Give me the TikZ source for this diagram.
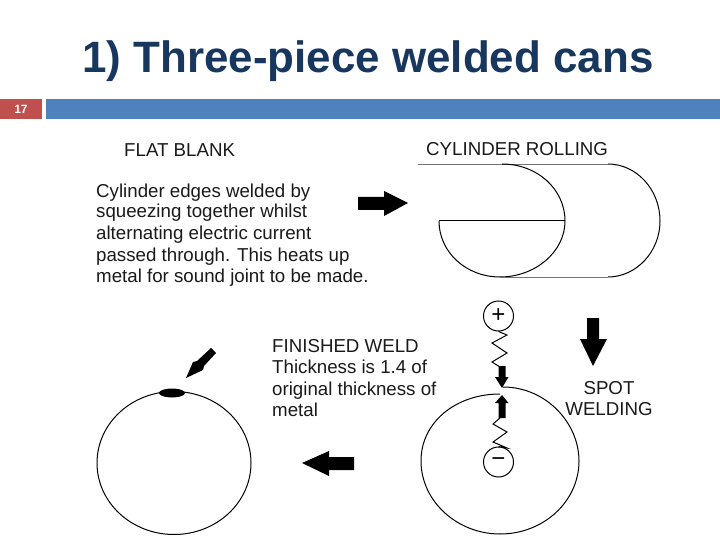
\documentclass[tikz,border=0pt]{standalone}
\usepackage{fontspec}
\setmainfont{Liberation Sans}
\definecolor{titleblue}{HTML}{17375E}
\definecolor{barblue}{HTML}{4F81BD}
\definecolor{barred}{HTML}{C0504D}
\definecolor{ink}{HTML}{1A1A1A}
\tikzset{
  lbl/.style={anchor=base west,inner sep=0pt,text=ink,font=\fontsize{18.7}{20}\selectfont},
  lblc/.style={anchor=base,inner sep=0pt,text=ink,font=\fontsize{18.7}{20}\selectfont},
  wire/.style={draw=black,line width=1pt},
  thin wire/.style={draw=black!55,line width=0.8pt},
  solid arrow/.style={fill=black,draw=none},
  term/.style={circle,draw=black,line width=1pt,minimum size=30pt,inner sep=0pt,font=\fontsize{24}{24}\selectfont}
}
\begin{document}
\begin{tikzpicture}[x=1pt,y=-1pt]
\useasboundingbox (0,0) rectangle (720,540);
\fill[white] (0,0) rectangle (720,540);
\node[anchor=base,inner sep=0pt,text=titleblue,font=\fontsize{43.9}{46}\selectfont\bfseries] (title) at (368,73) {1) Three-piece welded cans};
\fill[barred] (0,99) rectangle (42,119);
\fill[barblue] (46,99) rectangle (720,119);
\node[inner sep=0pt,text=white,font=\fontsize{12}{12}\selectfont\bfseries] (num) at (21,109) {17};
% labels
\node[lbl] (flat) at (124,157) {FLAT BLANK};
\node[lbl] (roll) at (426,156) {CYLINDER ROLLING};
\node[lbl] (p1) at (96,197) {Cylinder edges welded by};
\node[lbl] (p2) at (96,218) {squeezing together whilst};
\node[lbl] (p3) at (96,240) {alternating electric current};
\node[lbl] (p4) at (96,261) {passed through. This heats up};
\node[lbl] (p5) at (96,282) {metal for sound joint to be made.};
\node[lbl] (f1) at (272,352) {FINISHED WELD};
\node[lbl] (f2) at (272,373) {Thickness is 1.4 of};
\node[lbl] (f3) at (272,395) {original thickness of};
\node[lbl] (f4) at (272,416) {metal};
\node[lblc] (s1) at (609,394) {SPOT};
\node[lblc] (s2) at (609,415) {WELDING};
% rolling
\draw[thin wire] (418,164) -- (608,164);
\draw[wire] (502,164) .. controls (537,164) and (565,189) .. (565,221) .. controls (565,252) and (535,277) .. (500,277);
\draw[wire] (439,221) -- (565,221);
\draw[wire] (439,221) .. controls (439,252) and (466,277) .. (500,277);
\draw[thin wire] (500,277) -- (608,277);
\draw[wire] (608,164) .. controls (636,164) and (660,189) .. (660,221) .. controls (660,252) and (636,277) .. (608,277);
% block arrows
\fill[solid arrow] (358,197) -- (384,197) -- (384,191) -- (408,203) -- (384,216) -- (384,210) -- (358,210) -- cycle;
\fill[solid arrow] (587,318) -- (599,318) -- (599,339) -- (607,339) -- (593,366) -- (580,339) -- (587,339) -- cycle;
\fill[solid arrow] (354,457) -- (329,457) -- (329,451) -- (302,463) -- (329,476) -- (329,470) -- (354,470) -- cycle;
\fill[solid arrow] (211,348) -- (216,353) -- (204,366) -- (203,370) -- (186,378) -- (193,362) -- (197,361) -- cycle;
% spot welding
\draw[wire] (500,394) .. controls (456,394) and (421,422) .. (421,461) .. controls (421,501) and (457,534) .. (500,534) .. controls (544,534) and (579,501) .. (579,461) .. controls (579,423) and (546,387) .. (503,387);
\node[term] (plus) at (498.5,316) {+};
\node[term] (minus) at (498.5,462) {−};
\draw[wire] (plus.south) -- (507,335) -- (492,343) -- (507,353) -- (492,362) -- (500,367);
\draw[wire] (500,418) -- (493,424) -- (507,432) -- (493,442) -- (507,448) -- (minus.north);
\fill[solid arrow] (498.5,366) -- (505.5,366) -- (505.5,377) -- (508.5,377) -- (502,388) -- (495,377) -- (498.5,377) -- cycle;
\fill[solid arrow] (498.5,418) -- (505.5,418) -- (505.5,403) -- (508.5,403) -- (502,395) -- (495,403) -- (498.5,403) -- cycle;
% finished
\draw[wire] (174,463) ellipse [x radius=77,y radius=71.5];
\fill[black] (172,393) ellipse [x radius=13,y radius=4.5];
\end{tikzpicture}
\end{document}
